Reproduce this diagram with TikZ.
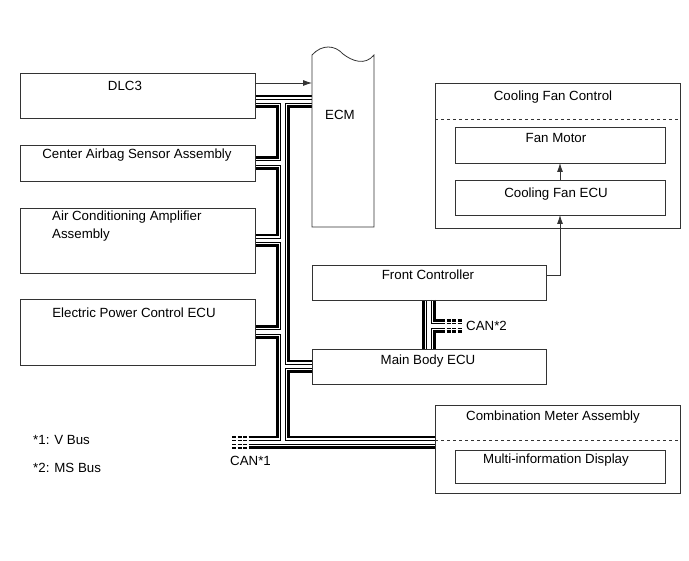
\documentclass[tikz,border=0pt]{standalone}
\usepackage{fontspec}
\setmainfont{Liberation Sans}
\usepackage{xcolor}
\usetikzlibrary{arrows.meta, positioning, calc, backgrounds}
\definecolor{boxline}{HTML}{333333}
\tikzstyle{unit} = [rectangle, draw=boxline, line width=0.8pt, inner sep=0pt, outer sep=0pt]
\tikzstyle{lbl} = [inner sep=0pt, text height=9.5pt, text depth=0pt, font=\fontsize{13.3}{16}\selectfont]
\tikzstyle{arrow} = [-{Latex[length=9pt, width=6pt]}, line width=0.8pt, draw=boxline]
\tikzstyle{stub} = [dash pattern=on 4pt off 1.5pt]

\begin{document}
\begin{tikzpicture}[x=1pt, y=-1pt]
    \useasboundingbox (0,0) rectangle (689,561);

    % left column
    \node[unit, minimum width=235pt, minimum height=45pt] (dlc) at (137.5,95.5) {};
    \node[unit, minimum width=235pt, minimum height=36pt] (airbag) at (137.5,163) {};
    \node[unit, minimum width=235pt, minimum height=65pt] (aircon) at (137.5,240.5) {};
    \node[unit, minimum width=235pt, minimum height=66pt] (epc) at (137.5,332) {};
    \node[lbl] (t-dlc) at (125,86) {DLC3};
    \node[lbl] (t-airbag) at (137,154) {Center Airbag Sensor Assembly};
    \node[lbl, anchor=west] (t-aircon) at (52,216) {Air Conditioning Amplifier};
    \node[lbl, anchor=west] (t-aircon2) at (52,234) {Assembly};
    \node[lbl] (t-epc) at (134,313) {Electric Power Control ECU};

    % ECM with torn top
    \node[inner sep=0pt, outer sep=0pt, minimum width=62pt, minimum height=172pt] (ecm) at (343,141) {};
    \draw[boxline, line width=0.8pt] (ecm.north west) -- (ecm.south west) -- (ecm.south east) -- (ecm.north east)
        .. controls (365,66) and (352,61) .. (343,54) .. controls (335,45) and (322,44) .. (ecm.north west);
    \node[lbl] (t-ecm) at (340,115) {ECM};

    % middle
    \node[unit, minimum width=234pt, minimum height=35pt] (fc) at (429,282.5) {};
    \node[unit, minimum width=234pt, minimum height=35pt] (mb) at (429,366.5) {};
    \node[lbl] (t-fc) at (428,275) {Front Controller};
    \node[lbl] (t-mb) at (428,360) {Main Body ECU};

    % right column
    \node[unit, minimum width=245pt, minimum height=145pt] (cfc) at (557.5,155.5) {};
    \node[unit, minimum width=210pt, minimum height=36pt] (fanm) at (560,145) {};
    \node[unit, minimum width=210pt, minimum height=35pt] (fane) at (560,197.5) {};
    \draw[boxline, line width=0.8pt, dashed] (cfc.west |- 0,119) -- (cfc.east |- 0,119);
    \node[lbl] (t-cfc) at (553,96) {Cooling Fan Control};
    \node[lbl] (t-fanm) at (556,138) {Fan Motor};
    \node[lbl] (t-fane) at (556,193) {Cooling Fan ECU};

    \node[unit, minimum width=245pt, minimum height=88pt] (cmb) at (557.5,449) {};
    \node[unit, minimum width=210pt, minimum height=33pt] (mid) at (560,466.5) {};
    \draw[boxline, line width=0.8pt, dashed] (cmb.west |- 0,440) -- (cmb.east |- 0,440);
    \node[lbl] (t-cmb) at (553,416) {Combination Meter Assembly};
    \node[lbl] (t-mid) at (556,459) {Multi-information Display};

    % signal arrows
    \draw[arrow] (dlc.east |- 0,83) -- (ecm.west |- 0,83);
    \draw[arrow] (fane) -- (fanm);
    \draw[arrow] (fc.east |- 0,275) -| (fane.south);

    % CAN lines
    \coordinate (jtop) at (283,101.5);
    \coordinate (jbot) at (283,442.5);
    \coordinate (canone) at (248.5,442.5);
    \coordinate (cantwo) at (445,326);
    \begin{scope}[on background layer]
    \foreach \w/\c in {13.5/black, 8/white, 5.5/black, 3.5/white} {
        \draw[line width=\w pt, \c]
            (dlc.east |- jtop) -- (ecm.west |- jtop)
            (jtop) -- (jbot)
            (airbag.east) -- (airbag.east -| jtop)
            (aircon.east) -- (aircon.east -| jtop)
            (epc.east) -- (epc.east -| jtop)
            (mb.west -| jtop) -- (mb.west)
            (canone) -- (cmb.west |- jbot)
            (fc.south) -- (mb.north)
            (fc.south |- cantwo) -- (cantwo);
    }
    \end{scope}
    \foreach \dy/\w in {-5.4/2.7, -2.25/1, 2.25/1, 5.4/2.7} {
        \draw[stub, line width=\w pt] ($(canone)+(-16.5,\dy)$) -- ++(16.5,0);
        \draw[stub, dash phase=4pt, line width=\w pt] ($(cantwo)+(0,\dy)$) -- ++(16.5,0);
    }
    \node[lbl, anchor=west] (t-canone) at (230,461) {CAN*1};
    \node[lbl, anchor=west] (t-cantwo) at (466,326) {CAN*2};

    % legend
    \node[lbl, anchor=west] (t-vbus) at (33,440) {*1: V Bus};
    \node[lbl, anchor=west] (t-msbus) at (33,468) {*2: MS Bus};
\end{tikzpicture}
\end{document}
